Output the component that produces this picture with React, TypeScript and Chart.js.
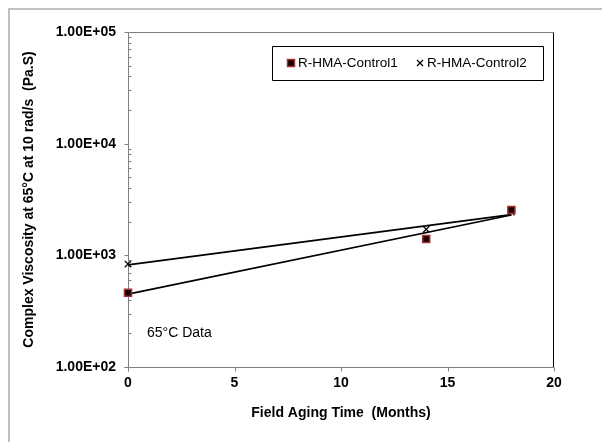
import React, { useEffect, useRef } from 'react';
import { Chart, registerables } from 'chart.js';

Chart.register(...registerables);

// ---- data ----
const months = [0, 14, 18];
const control1 = [462, 1400, 2545];
const control2 = [836, 1710, 2443];
const seriesNames = ['R-HMA-Control1', 'R-HMA-Control2'];
const yTickValues = [100, 1000, 10000, 100000];
const yTickLabels = ['1.00E+02', '1.00E+03', '1.00E+04', '1.00E+05'];
const xTickValues = [0, 5, 10, 15, 20];
const xTitle = 'Field Aging Time  (Months)';
const yTitle = 'Complex Viscosity at 65°C at 10 rad/s  (Pa.S)';
const noteText = '65°C Data';

const FONT = '"Liberation Sans", Arial, sans-serif';

// Excel-style exponential trendline: least squares in log10 space
function expTrend(xs: number[], ys: number[]) {
  const ly = ys.map((v) => Math.log10(v));
  const n = xs.length;
  const mx = xs.reduce((s, v) => s + v, 0) / n;
  const my = ly.reduce((s, v) => s + v, 0) / n;
  let sxy = 0, sxx = 0;
  for (let i = 0; i < n; i++) {
    sxy += (xs[i] - mx) * (ly[i] - my);
    sxx += (xs[i] - mx) * (xs[i] - mx);
  }
  const b = sxy / sxx;
  const a = my - b * mx;
  const x0 = Math.min(...xs), x1 = Math.max(...xs);
  return [
    { x: x0, y: Math.pow(10, a + b * x0) },
    { x: x1, y: Math.pow(10, a + b * x1) },
  ];
}

const SQ_FILL = '#120000';
const SQ_BORDER = '#a83232';

function drawSquare(ctx: CanvasRenderingContext2D, cx: number, cy: number) {
  ctx.fillStyle = SQ_FILL;
  ctx.strokeStyle = SQ_BORDER;
  ctx.lineWidth = 1.5;
  ctx.beginPath();
  ctx.rect(cx - 3.5, cy - 3.5, 7, 7);
  ctx.fill();
  ctx.stroke();
}
function drawCross(ctx: CanvasRenderingContext2D, cx: number, cy: number) {
  ctx.strokeStyle = '#000';
  ctx.lineWidth = 1.3;
  ctx.beginPath();
  ctx.moveTo(cx - 3, cy - 3);
  ctx.lineTo(cx + 3, cy + 3);
  ctx.moveTo(cx + 3, cy - 3);
  ctx.lineTo(cx - 3, cy + 3);
  ctx.stroke();
}

const framePlugin = {
  id: 'excelFrame',
  beforeDatasetsDraw(chart: any) {
    const { ctx, chartArea: a, scales } = chart;
    const x = scales.x, y = scales.y;
    ctx.save();
    // outer chart border (left/top visible)
    ctx.strokeStyle = '#c0c0c0';
    ctx.lineWidth = 2;
    ctx.beginPath();
    ctx.moveTo(9, chart.height);
    ctx.lineTo(9, 9);
    ctx.lineTo(chart.width, 9);
    ctx.stroke();

    const L = Math.round(a.left) + 0.5;
    const R = Math.round(a.right) - 0.5;
    const T = Math.round(a.top) + 0.5;
    const B = Math.round(a.bottom) + 0.5;
    ctx.lineWidth = 1;
    ctx.strokeStyle = '#808080';
    ctx.beginPath();
    ctx.moveTo(L, T);
    ctx.lineTo(R, T);
    ctx.stroke();
    ctx.strokeStyle = '#000';
    ctx.beginPath();
    ctx.moveTo(R, T);
    ctx.lineTo(R, B);
    ctx.stroke();

    ctx.strokeStyle = '#808080';
    ctx.beginPath();
    ctx.moveTo(L, T);
    ctx.lineTo(L, B + 4);
    ctx.moveTo(L - 4, B);
    ctx.lineTo(R, B);
    yTickValues.forEach((v, i) => {
      const py = Math.round(y.getPixelForValue(v)) + 0.5;
      ctx.moveTo(L - 4, py);
      ctx.lineTo(L, py);
      if (i < yTickValues.length - 1) {
        for (let k = 2; k <= 9; k++) {
          const my = Math.round(y.getPixelForValue(v * k)) + 0.5;
          ctx.moveTo(L, my);
          ctx.lineTo(L + 3, my);
        }
      }
    });
    xTickValues.forEach((v) => {
      const px = Math.round(x.getPixelForValue(v)) + 0.5;
      ctx.moveTo(px, B);
      ctx.lineTo(px, B + 4);
    });
    ctx.stroke();
    ctx.restore();
  },
  afterDraw(chart: any) {
    const { ctx, chartArea: a } = chart;
    ctx.save();
    // legend box
    ctx.strokeStyle = '#000';
    ctx.lineWidth = 1;
    ctx.fillStyle = '#fff';
    ctx.beginPath();
    ctx.rect(272.5, 46.5, 271, 34);
    ctx.fill();
    ctx.stroke();
    ctx.font = `13.5px ${FONT}`;
    ctx.textBaseline = 'middle';
    ctx.textAlign = 'left';
    const ly = 63;
    drawSquare(ctx, 291, ly);
    ctx.fillStyle = '#000';
    ctx.fillText(seriesNames[0], 298, ly);
    drawCross(ctx, 420, ly);
    ctx.fillStyle = '#000';
    ctx.fillText(seriesNames[1], 427, ly);
    // note text
    ctx.font = `14px ${FONT}`;
    ctx.fillText(noteText, a.left + 19, 333);
    ctx.restore();
  },
};

export default function App() {
  const ref = useRef<HTMLCanvasElement>(null);
  useEffect(() => {
    if (!ref.current) return;
    const c1 = months.map((m, i) => ({ x: m, y: control1[i] }));
    const c2 = months.map((m, i) => ({ x: m, y: control2[i] }));
    const chart = new Chart(ref.current, {
      type: 'scatter',
      data: {
        datasets: [
          {
            label: seriesNames[0],
            data: c1,
            pointStyle: 'rect',
            pointRadius: 5,
            backgroundColor: SQ_FILL,
            borderColor: SQ_BORDER,
            borderWidth: 1.5,
            showLine: false,
            clip: false,
          },
          {
            label: seriesNames[1],
            data: c2,
            pointStyle: 'crossRot',
            pointRadius: 4.5,
            borderColor: '#000',
            backgroundColor: '#000',
            borderWidth: 1.3,
            showLine: false,
            clip: false,
          },
          {
            label: 'trend1',
            data: expTrend(months, control1),
            showLine: true,
            pointRadius: 0,
            borderColor: '#000',
            borderWidth: 1.75,
            clip: false,
          },
          {
            label: 'trend2',
            data: expTrend(months, control2),
            showLine: true,
            pointRadius: 0,
            borderColor: '#000',
            borderWidth: 1.75,
            clip: false,
          },
        ],
      } as any,
      options: {
        animation: false,
        responsive: false,
        devicePixelRatio: 1,
        layout: { padding: { left: 0, top: 32, right: 48, bottom: 0 } },
        plugins: { legend: { display: false }, tooltip: { enabled: false } },
        scales: {
          x: {
            type: 'linear',
            min: 0,
            max: 20,
            afterBuildTicks: (s: any) => {
              s.ticks = xTickValues.map((v) => ({ value: v }));
            },
            afterFit: (s: any) => {
              s.height = 75;
            },
            grid: { display: false, drawTicks: false },
            border: { display: false },
            ticks: {
              padding: 8,
              color: '#000',
              font: { family: FONT, size: 14, weight: 'bold' },
              callback: (v: any) => String(v),
            },
            title: {
              display: true,
              text: xTitle,
              color: '#000',
              font: { family: FONT, size: 14, weight: 'bold' },
              padding: { top: 0, bottom: 20.5 },
            },
          },
          y: {
            type: 'logarithmic',
            min: 100,
            max: 100000,
            afterBuildTicks: (s: any) => {
              s.ticks = yTickValues.map((v) => ({ value: v }));
            },
            afterFit: (s: any) => {
              s.width = 128;
            },
            grid: { display: false, drawTicks: false },
            border: { display: false },
            ticks: {
              padding: 12,
              color: '#000',
              font: { family: FONT, size: 14, weight: 'bold' },
              callback: (v: any) => {
                const i = yTickValues.indexOf(Number(v));
                return i >= 0 ? yTickLabels[i] : '';
              },
            },
            title: {
              display: true,
              text: yTitle,
              color: '#000',
              font: { family: FONT, size: 14, weight: 'bold' },
              padding: { top: 20.5, bottom: 0 },
            },
          },
        },
      } as any,
      plugins: [framePlugin],
    });
    return () => chart.destroy();
  }, []);
  return (
    <canvas
      ref={ref}
      width={602}
      height={442}
      style={{ position: 'absolute', left: 0, top: 0, width: 602, height: 442, display: 'block' }}
    />
  );
}
